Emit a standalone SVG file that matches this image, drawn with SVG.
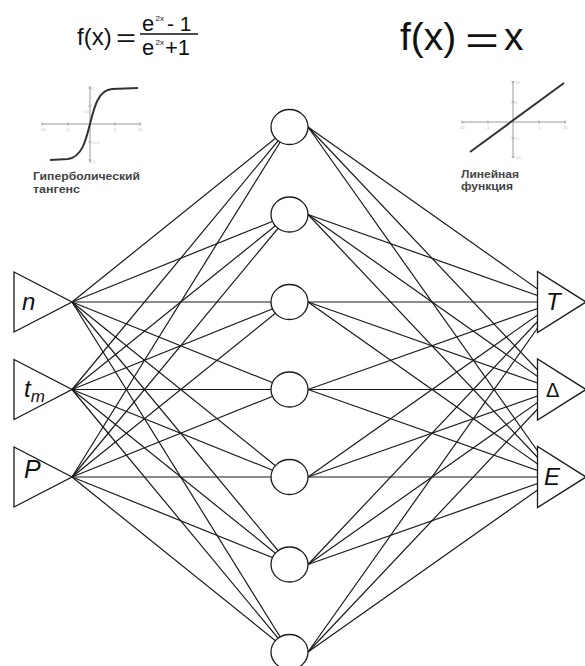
<svg xmlns="http://www.w3.org/2000/svg" width="585" height="666" viewBox="0 0 585 666">
<style>
.c{stroke:#1a1a1a;stroke-width:1.2;fill:none}
.node{fill:#fff;stroke:#1a1a1a;stroke-width:1.3}
.ax{stroke:#9a9a9a;stroke-width:1;fill:none}
.cur{stroke:#333;stroke-width:2;fill:none}
.f{font-family:"Liberation Sans",Arial,sans-serif;fill:#111}
.lab{font-family:"Liberation Sans",Arial,sans-serif;font-style:italic;fill:#111}
.cap{font-family:"Liberation Sans",Arial,sans-serif;font-weight:bold;font-size:11px;fill:#444}
.tk{font-family:"Liberation Sans",Arial,sans-serif;font-size:4px;fill:#bdbdbd}
</style>
<rect width="585" height="666" fill="#fff"/>

<g id="formula-tanh">
<text class="f" x="77" y="45" font-size="24">f(x)</text>
<text class="f" x="116" y="45.5" font-size="24" textLength="20" lengthAdjust="spacingAndGlyphs">=</text>
<text class="f" x="142" y="31" font-size="22">e</text>
<text class="f" x="155.5" y="20.5" font-size="8" fill="#777">2x</text>
<text class="f" x="167" y="31" font-size="21">- 1</text>
<line x1="140" y1="34" x2="198" y2="34" stroke="#111" stroke-width="1.5"/>
<text class="f" x="142" y="55" font-size="22">e</text>
<text class="f" x="155.5" y="44.5" font-size="8" fill="#777">2x</text>
<text class="f" x="165" y="55" font-size="22">+1</text>
</g>

<g id="formula-linear">
<text class="f" x="400" y="50" font-size="39">f(x)</text>
<text class="f" x="465" y="54" font-size="39" textLength="34" lengthAdjust="spacingAndGlyphs">=</text>
<text class="f" x="504" y="50" font-size="39">x</text>
</g>

<g id="graph-tanh">
<line class="ax" x1="42" y1="124" x2="141" y2="124"/>
<line class="ax" x1="90" y1="86" x2="90" y2="163"/>
<path class="ax" d="M42,122.5v3M68,122.5v3M115,122.5v3M140,122.5v3M88.5,88h3M88.5,106h3M88.5,142h3M88.5,160h3"/>
<path class="cur" d="M50,160 L68,159 C82,157 86,140 90,124 C94,108 98,90 112,89 L138,88"/>
<text class="tk" x="40" y="131">-10</text>
<text class="tk" x="66" y="131">-5</text>
<text class="tk" x="114" y="131">5</text>
<text class="tk" x="138" y="131">10</text>
<text class="tk" x="92" y="90">1</text>
<text class="tk" x="84" y="113">0.5</text>
<text class="tk" x="92" y="144">-0.5</text>
<text class="tk" x="92" y="163">-1</text>
<text class="cap" x="33" y="180" textLength="107" lengthAdjust="spacingAndGlyphs">Гиперболический</text>
<text class="cap" x="33" y="193" textLength="47" lengthAdjust="spacingAndGlyphs">тангенс</text>
</g>

<g id="graph-linear">
<line class="ax" x1="462" y1="122" x2="566" y2="122"/>
<line class="ax" x1="513" y1="81" x2="513" y2="158"/>
<path class="ax" d="M462,120.5v3M488,120.5v3M539,120.5v3M565,120.5v3M511.5,82h3M511.5,102h3M511.5,138h3M511.5,157h3"/>
<line class="cur" x1="470" y1="152" x2="564" y2="83"/>
<text class="tk" x="459" y="129">-10</text>
<text class="tk" x="486" y="129">-5</text>
<text class="tk" x="538" y="129">5</text>
<text class="tk" x="563" y="129">10</text>
<text class="tk" x="515" y="84">10</text>
<text class="tk" x="515" y="104">5</text>
<text class="tk" x="515" y="140">-5</text>
<text class="tk" x="515" y="159">-10</text>
<text class="cap" x="461" y="178" textLength="58" lengthAdjust="spacingAndGlyphs">Линейная</text>
<text class="cap" x="461" y="190" textLength="52" lengthAdjust="spacingAndGlyphs">функция</text>
</g>

<g id="connectors">
<line class="c" x1="72" y1="302" x2="289.5" y2="127"/>
<line class="c" x1="72" y1="302" x2="289.5" y2="214.5"/>
<line class="c" x1="72" y1="302" x2="289.5" y2="302"/>
<line class="c" x1="72" y1="302" x2="289.5" y2="389.5"/>
<line class="c" x1="72" y1="302" x2="289.5" y2="477"/>
<line class="c" x1="72" y1="302" x2="289.5" y2="564.5"/>
<line class="c" x1="72" y1="302" x2="289.5" y2="652"/>
<line class="c" x1="72" y1="389.5" x2="289.5" y2="127"/>
<line class="c" x1="72" y1="389.5" x2="289.5" y2="214.5"/>
<line class="c" x1="72" y1="389.5" x2="289.5" y2="302"/>
<line class="c" x1="72" y1="389.5" x2="289.5" y2="389.5"/>
<line class="c" x1="72" y1="389.5" x2="289.5" y2="477"/>
<line class="c" x1="72" y1="389.5" x2="289.5" y2="564.5"/>
<line class="c" x1="72" y1="389.5" x2="289.5" y2="652"/>
<line class="c" x1="72" y1="477" x2="289.5" y2="127"/>
<line class="c" x1="72" y1="477" x2="289.5" y2="214.5"/>
<line class="c" x1="72" y1="477" x2="289.5" y2="302"/>
<line class="c" x1="72" y1="477" x2="289.5" y2="389.5"/>
<line class="c" x1="72" y1="477" x2="289.5" y2="477"/>
<line class="c" x1="72" y1="477" x2="289.5" y2="564.5"/>
<line class="c" x1="72" y1="477" x2="289.5" y2="652"/>

<line class="c" x1="308" y1="127" x2="556" y2="302"/>
<line class="c" x1="308" y1="127" x2="556" y2="389.5"/>
<line class="c" x1="308" y1="127" x2="556" y2="477"/>
<line class="c" x1="308" y1="214.5" x2="556" y2="302"/>
<line class="c" x1="308" y1="214.5" x2="556" y2="389.5"/>
<line class="c" x1="308" y1="214.5" x2="556" y2="477"/>
<line class="c" x1="308" y1="302" x2="556" y2="302"/>
<line class="c" x1="308" y1="302" x2="556" y2="389.5"/>
<line class="c" x1="308" y1="302" x2="556" y2="477"/>
<line class="c" x1="308" y1="389.5" x2="556" y2="302"/>
<line class="c" x1="308" y1="389.5" x2="556" y2="389.5"/>
<line class="c" x1="308" y1="389.5" x2="556" y2="477"/>
<line class="c" x1="308" y1="477" x2="556" y2="302"/>
<line class="c" x1="308" y1="477" x2="556" y2="389.5"/>
<line class="c" x1="308" y1="477" x2="556" y2="477"/>
<line class="c" x1="308" y1="564.5" x2="556" y2="302"/>
<line class="c" x1="308" y1="564.5" x2="556" y2="389.5"/>
<line class="c" x1="308" y1="564.5" x2="556" y2="477"/>
<line class="c" x1="308" y1="652" x2="556" y2="302"/>
<line class="c" x1="308" y1="652" x2="556" y2="389.5"/>
<line class="c" x1="308" y1="652" x2="556" y2="477"/>
</g>

<g id="in-n">
<polygon class="node" points="14,272 14,332 72,302"/>
<text class="lab" x="22" y="310" font-size="24">n</text>
</g>
<g id="in-tm">
<polygon class="node" points="14,359.5 14,419.5 72,389.5"/>
<text class="lab" x="24" y="397" font-size="24">t<tspan font-size="17" dy="5">m</tspan></text>
</g>
<g id="in-P">
<polygon class="node" points="14,447 14,507 72,477"/>
<text class="lab" x="24" y="478" font-size="25">P</text>
</g>

<g id="h1"><ellipse class="node" cx="289.5" cy="127" rx="18.5" ry="17.5"/></g>
<g id="h2"><ellipse class="node" cx="289.5" cy="214.5" rx="18.5" ry="17.5"/></g>
<g id="h3"><ellipse class="node" cx="289.5" cy="302" rx="18.5" ry="17.5"/></g>
<g id="h4"><ellipse class="node" cx="289.5" cy="389.5" rx="18.5" ry="17.5"/></g>
<g id="h5"><ellipse class="node" cx="289.5" cy="477" rx="18.5" ry="17.5"/></g>
<g id="h6"><ellipse class="node" cx="289.5" cy="564.5" rx="18.5" ry="17.5"/></g>
<g id="h7"><ellipse class="node" cx="289.5" cy="652" rx="18.5" ry="17.5"/></g>

<g id="out-T">
<polygon class="node" points="537.5,271.5 537.5,332.5 586,302"/>
<text class="lab" x="546" y="309.5" font-size="24">T</text>
</g>
<g id="out-Delta">
<polygon class="node" points="537.5,359 537.5,420 586,389.5"/>
<text class="f" x="546" y="397" font-size="20">Δ</text>
</g>
<g id="out-E">
<polygon class="node" points="537.5,446.5 537.5,507.5 586,477"/>
<text class="lab" x="544" y="485" font-size="24">E</text>
</g>
</svg>
